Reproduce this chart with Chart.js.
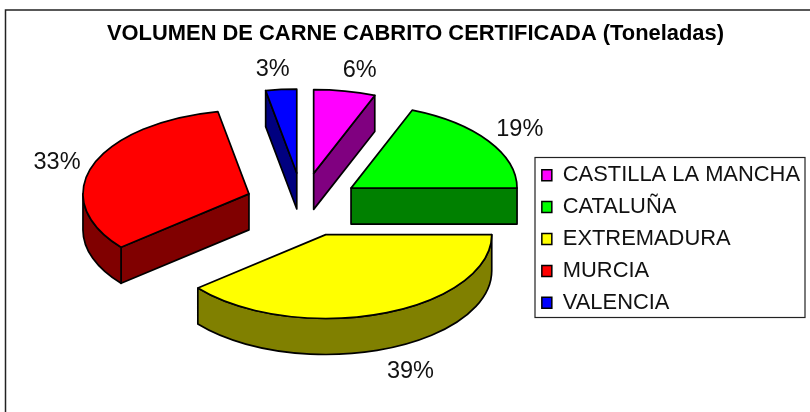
<!DOCTYPE html>
<html><head><meta charset="utf-8">
<style>html,body{margin:0;padding:0;background:#fff}#w{width:810px;height:412px;position:relative}</style>
<script src="https://cdn.jsdelivr.net/npm/chart.js@4"></script>
</head><body><div id="w"><canvas id="c" width="810" height="412"></canvas></div>
<script>
const TITLE = 'VOLUMEN DE CARNE CABRITO CERTIFICADA (Toneladas)';
const categories = ['CASTILLA LA MANCHA','CATALUÑA','EXTREMADURA','MURCIA','VALENCIA'];
const shares = [6,19,39,33,3];
const topColors = ['#ff00ff','#00ff00','#ffff00','#ff0000','#0000ff'];
const sideColors = ['#800080','#008000','#808000','#800000','#000080'];
const labelRadiiX = [246,204,250,204,255];
const labelRadiiY = [105,104,145,94,104];
const sliceNudgeX = [0,-1,3,3,0];
const sliceNudgeY = [-2,0,1,-1,-2];
const TILT = 0.505, DEPTH = 36, EXPLODE = 60, LINE = 1.7, LEGEND_SHIFT = 47, TITLE_SHIFT = 26;
const FONT = 'Arial, "Liberation Sans", sans-serif';

const pie3d = {
  id: 'pie3d',
  afterLayout(chart) {
    chart.legend.top += LEGEND_SHIFT;
    chart.legend.bottom += LEGEND_SHIFT;
    chart.titleBlock.left -= TITLE_SHIFT;
    chart.titleBlock.right -= TITLE_SHIFT;
  },
  beforeDraw(chart) {
    const c = chart.ctx;
    c.save();
    c.strokeStyle = '#222'; c.lineWidth = 1.5;
    c.beginPath(); c.moveTo(5.5, 412); c.lineTo(5.5, 10); c.lineTo(810, 10); c.stroke();
    c.restore();
  },
  beforeDatasetDraw(chart) {
    const c = chart.ctx;
    const arcs = chart.getDatasetMeta(0).data;
    const total = shares.reduce((a, b) => a + b, 0);
    const order = [4, 0, 1, 3, 2];
    const geom = arcs.map((a, i) => {
      const mid = (a.startAngle + a.endAngle) / 2;
      return { a, mid, rx: a.outerRadius, ry: a.outerRadius * TILT,
               x: a.x + Math.cos(mid) * EXPLODE + sliceNudgeX[i],
               y: a.y + Math.sin(mid) * EXPLODE * TILT + sliceNudgeY[i] };
    });
    const pt = (g, t) => [g.x + Math.cos(t) * g.rx, g.y + Math.sin(t) * g.ry];
    order.forEach(i => {
      const g = geom[i], s = g.a.startAngle, e = g.a.endAngle;
      c.save();
      c.lineWidth = LINE; c.lineJoin = 'round'; c.strokeStyle = '#000'; c.fillStyle = sideColors[i];
      const quad = t => {
        const p = pt(g, t);
        c.beginPath(); c.moveTo(g.x, g.y); c.lineTo(p[0], p[1]);
        c.lineTo(p[0], p[1] + DEPTH); c.lineTo(g.x, g.y + DEPTH); c.closePath();
        c.fill(); c.stroke();
      };
      if (Math.cos(s) < -1e-6) quad(s);
      if (Math.cos(e) > 1e-6) quad(e);
      const norm = t => { let v = t % (2 * Math.PI); if (v < 0) v += 2 * Math.PI; return v; };
      const ss = norm(s), span = e - s;
      const lo = Math.max(ss, 0), hi = Math.min(ss + span, Math.PI);
      if (hi > lo) {
        c.beginPath();
        c.ellipse(g.x, g.y, g.rx, g.ry, 0, lo, hi);
        const q = pt(g, hi);
        c.lineTo(q[0], q[1] + DEPTH);
        c.ellipse(g.x, g.y + DEPTH, g.rx, g.ry, 0, hi, lo, true);
        c.closePath();
        c.fill(); c.stroke();
      }
      c.save();
      c.translate(g.x, g.y); c.scale(1, TILT); c.translate(-g.a.x, -g.a.y);
      g.a.draw(c);
      c.restore();
      c.beginPath();
      c.moveTo(g.x, g.y);
      c.ellipse(g.x, g.y, g.rx, g.ry, 0, s, e);
      c.closePath();
      c.stroke();
      c.restore();
    });
    c.save();
    c.font = '23.5px ' + FONT; c.fillStyle = '#111'; c.textAlign = 'center'; c.textBaseline = 'middle';
    geom.forEach((g, i) => {
      const t = g.mid;
      c.fillText(Math.round(shares[i] / total * 100) + '%',
        g.x + Math.cos(t) * labelRadiiX[i], g.y + Math.sin(t) * labelRadiiY[i]);
    });
    c.restore();
    return false;
  },
  afterDraw(chart) {
    const c = chart.ctx;
    c.save(); c.strokeStyle = '#222'; c.lineWidth = 1.2;
    c.strokeRect(535, 157.5, 270, 160);
    c.restore();
  }
};

new Chart(document.getElementById('c'), {
  type: 'pie',
  plugins: [pie3d],
  data: { labels: categories, datasets: [{
    data: shares, backgroundColor: topColors, borderColor: '#000', borderWidth: 0, offset: 0
  }]},
  options: {
    responsive: false, animation: false, radius: 166,
    layout: { padding: { left: 73, right: 0, top: 21, bottom: 49 } },
    plugins: {
      tooltip: { enabled: false },
      title: { display: true, text: TITLE, color: '#000', padding: { top: 0, bottom: 0 },
               font: { family: FONT, size: 21.9, weight: 'bold' } },
      legend: { position: 'right', align: 'center',
        labels: { color: '#111', boxWidth: 10, boxHeight: 11, padding: 10,
                  font: { family: FONT, size: 21.9 },
                  generateLabels(chart) {
                    return categories.map((t, i) => ({ text: t, fillStyle: topColors[i], strokeStyle: '#000', lineWidth: 1.5, index: i, fontColor: '#111' }));
                  } } }
    }
  }
});
</script></body></html>
